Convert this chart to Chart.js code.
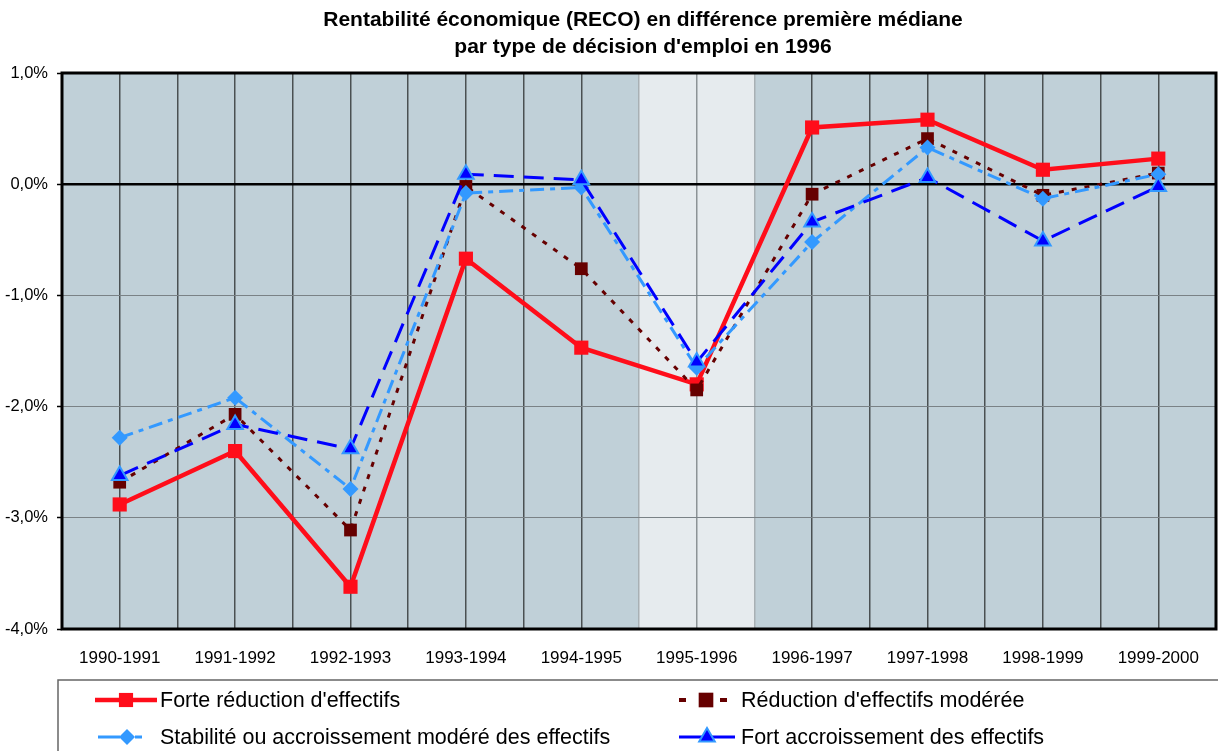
<!DOCTYPE html>
<html>
<head>
<meta charset="utf-8">
<script src="https://cdn.jsdelivr.net/npm/chart.js@4.4.1/dist/chart.umd.min.js"></script>
<style>
html,body{margin:0;padding:0;background:#fff;}
#wrap{width:1218px;height:751px;position:relative;}
</style>
</head>
<body>
<div id="wrap"><canvas id="c" width="1218" height="751"></canvas></div>
<script>
const titleLines = ["Rentabilité économique (RECO) en différence première médiane", "par type de décision d'emploi en 1996"];
const categories = ["1990-1991","1991-1992","1992-1993","1993-1994","1994-1995","1995-1996","1996-1997","1997-1998","1998-1999","1999-2000"];
const seriesNames = ["Forte réduction d'effectifs","Réduction d'effectifs modérée","Stabilité ou accroissement modéré des effectifs","Fort accroissement des effectifs"];
const forteReduction = [-2.88,-2.40,-3.62,-0.67,-1.47,-1.80,0.51,0.58,0.13,0.23];
const reductionModeree = [-2.68,-2.07,-3.11,-0.02,-0.76,-1.85,-0.09,0.41,-0.10,0.10];
const stabilite = [-2.28,-1.92,-2.74,-0.08,-0.03,-1.65,-0.52,0.33,-0.13,0.09];
const fortAccroissement = [-2.62,-2.16,-2.38,0.09,0.04,-1.60,-0.34,0.06,-0.51,-0.02];
const yTicks = [-4,-3,-2,-1,0,1];
const highlightCategory = "1995-1996";

const FONT = '"Liberation Sans", Arial, sans-serif';
const styles = [
  {color:'#FF0D1A', width:4.5, dash:[], point:'rect', r:10, fill:'#FF0D1A', border:'#FF0D1A', bw:0},
  {color:'#660000', width:3, dash:[5,8], point:'rect', r:9, fill:'#660000', border:'#660000', bw:0},
  {color:'#3399FF', width:3, dash:[14,6,5,6], point:'rectRot', r:8, fill:'#3399FF', border:'#3399FF', bw:0},
  {color:'#0000FF', width:3, dash:[20,10], point:'triangle', r:9, fill:'#0000FF', border:'#3399FF', bw:2}
];
const allData = [forteReduction, reductionModeree, stabilite, fortAccroissement];

const datasets = allData.map((d,i)=>({
  label: seriesNames[i],
  data: d,
  xAxisID:'x', yAxisID:'y',
  borderColor: styles[i].color,
  borderWidth: styles[i].width,
  borderDash: styles[i].dash,
  pointStyle: styles[i].point,
  pointRadius: styles[i].r,
  pointHoverRadius: styles[i].r,
  pointBackgroundColor: styles[i].fill,
  pointBorderColor: styles[i].border,
  pointBorderWidth: styles[i].bw,
  tension: 0,
  order: 4 - i
}));

const bgPlugin = {
  id:'bg',
  beforeDraw(chart){
    const {ctx, chartArea:a, scales} = chart;
    ctx.save();
    ctx.fillStyle = '#C0D0D8';
    ctx.fillRect(a.left, a.top, a.right-a.left, a.bottom-a.top);
    const idx = categories.indexOf(highlightCategory);
    const x0 = scales.x2.getPixelForValue(idx-0.5), x1 = scales.x2.getPixelForValue(idx+0.5);
    ctx.fillStyle = '#E6EBEE';
    ctx.fillRect(x0, a.top, x1-x0, a.bottom-a.top);
    ctx.restore();
  },
  beforeDatasetsDraw(chart){
    const {ctx, chartArea:a, scales} = chart;
    ctx.save();
    const y0 = scales.y.getPixelForValue(0);
    ctx.strokeStyle = '#000'; ctx.lineWidth = 2.5;
    ctx.beginPath(); ctx.moveTo(a.left, y0); ctx.lineTo(a.right, y0); ctx.stroke();
    ctx.lineWidth = 3;
    ctx.strokeRect(a.left, a.top, a.right-a.left, a.bottom-a.top);
    ctx.restore();
  },
  afterDraw(chart){
    const {ctx, chartArea:a} = chart;
    ctx.save();
    // title
    ctx.fillStyle = '#000';
    ctx.font = 'bold 21px ' + FONT;
    ctx.textAlign = 'center'; ctx.textBaseline = 'middle';
    const cx = (a.left + a.right)/2 + 4;
    ctx.fillText(titleLines[0], cx, 20);
    ctx.fillText(titleLines[1], cx, 47);
    // legend box
    ctx.strokeStyle = '#666'; ctx.lineWidth = 1.5;
    ctx.strokeRect(58, 680, 1200, 120);
    const rows = [700, 737];
    ctx.font = '21.5px ' + FONT;
    ctx.textAlign = 'left';
    const items = [
      {px:126, tx:160, y:rows[0]},
      {px:706, tx:741, y:rows[0]},
      {px:127, tx:160, y:rows[1]},
      {px:707, tx:741, y:rows[1]}
    ];
    items.forEach((it,i)=>{
      const s = styles[i];
      const y = it.y;
      ctx.save();
      ctx.strokeStyle = s.color; ctx.lineWidth = s.width;
      ctx.beginPath();
      if (i===0){ ctx.moveTo(95,y); ctx.lineTo(157,y); }
      else if (i===1){ ctx.lineWidth = 4; ctx.moveTo(679,y); ctx.lineTo(686,y); ctx.moveTo(720,y); ctx.lineTo(727,y); }
      else if (i===2){ ctx.moveTo(98,y); ctx.lineTo(120,y); ctx.moveTo(135,y); ctx.lineTo(142,y); }
      else { ctx.moveTo(679,y); ctx.lineTo(735,y); }
      ctx.stroke();
      ctx.restore();
      ctx.save();
      ctx.fillStyle = s.fill; ctx.strokeStyle = s.border; ctx.lineWidth = s.bw;
      Chart.helpers.drawPoint(ctx, {pointStyle:s.point, radius:(i===1? s.r*1.15 : s.r), borderWidth:s.bw}, it.px, y);
      ctx.restore();
      ctx.fillStyle = '#000';
      ctx.textBaseline = 'middle';
      ctx.fillText(seriesNames[i], it.tx, y+1);
    });
    ctx.restore();
  }
};

new Chart(document.getElementById('c'), {
  type:'line',
  data:{labels:categories, datasets},
  options:{
    responsive:false,
    animation:false,
    events:[],
    layout:{autoPadding:false, padding:{top:73, left:0, right:2, bottom:72}},
    plugins:{legend:{display:false}, title:{display:false}, tooltip:{enabled:false}},
    scales:{
      x:{
        type:'category', position:'bottom', offset:true,
        grid:{display:false, drawTicks:false},
        border:{display:false},
        ticks:{color:'#000', font:{size:17, family:FONT}, padding:19, maxRotation:0, autoSkip:false},
        afterFit(s){ s.height = 50; s.paddingLeft = 0; s.paddingRight = 0; }
      },
      x2:{
        type:'linear', position:'bottom', min:-0.5, max:categories.length-0.5,
        afterBuildTicks(s){ const t=[]; for(let v=-0.5; v<=categories.length-0.5+1e-9; v+=0.5) t.push({value:v}); s.ticks=t; },
        ticks:{display:false},
        border:{display:false},
        grid:{
          drawTicks:false,
          lineWidth:1.5,
          color(ctx){
            const v = ctx.tick ? ctx.tick.value : 0;
            const idx = categories.indexOf(highlightCategory);
            if (Math.abs(v-(idx-0.5))<1e-6 || Math.abs(v-(idx+0.5))<1e-6) return '#A8B0B4';
            if (Math.abs(v-idx)<1e-6) return '#8C9396';
            return '#4A5052';
          }
        },
        afterFit(s){ s.height = 0; s.paddingLeft = 0; s.paddingRight = 0; }
      },
      y:{
        type:'linear', min:-4, max:1,
        afterBuildTicks(s){ s.ticks = yTicks.map(v=>({value:v})); },
        border:{display:false},
        grid:{
          color(ctx){ return (ctx.tick && ctx.tick.value===0) ? 'rgba(0,0,0,0)' : '#7A8286'; },
          lineWidth:1,
          drawTicks:true, tickLength:5, tickColor:'#000', tickWidth:1.5
        },
        ticks:{color:'#000', font:{size:16.5, family:FONT}, padding:9,
          callback:v=>v.toFixed(1).replace('.',',')+'%'},
        afterFit(s){ s.width = 62; s.paddingTop = 0; s.paddingBottom = 0; }
      }
    }
  },
  plugins:[bgPlugin]
});
</script>
</body>
</html>
